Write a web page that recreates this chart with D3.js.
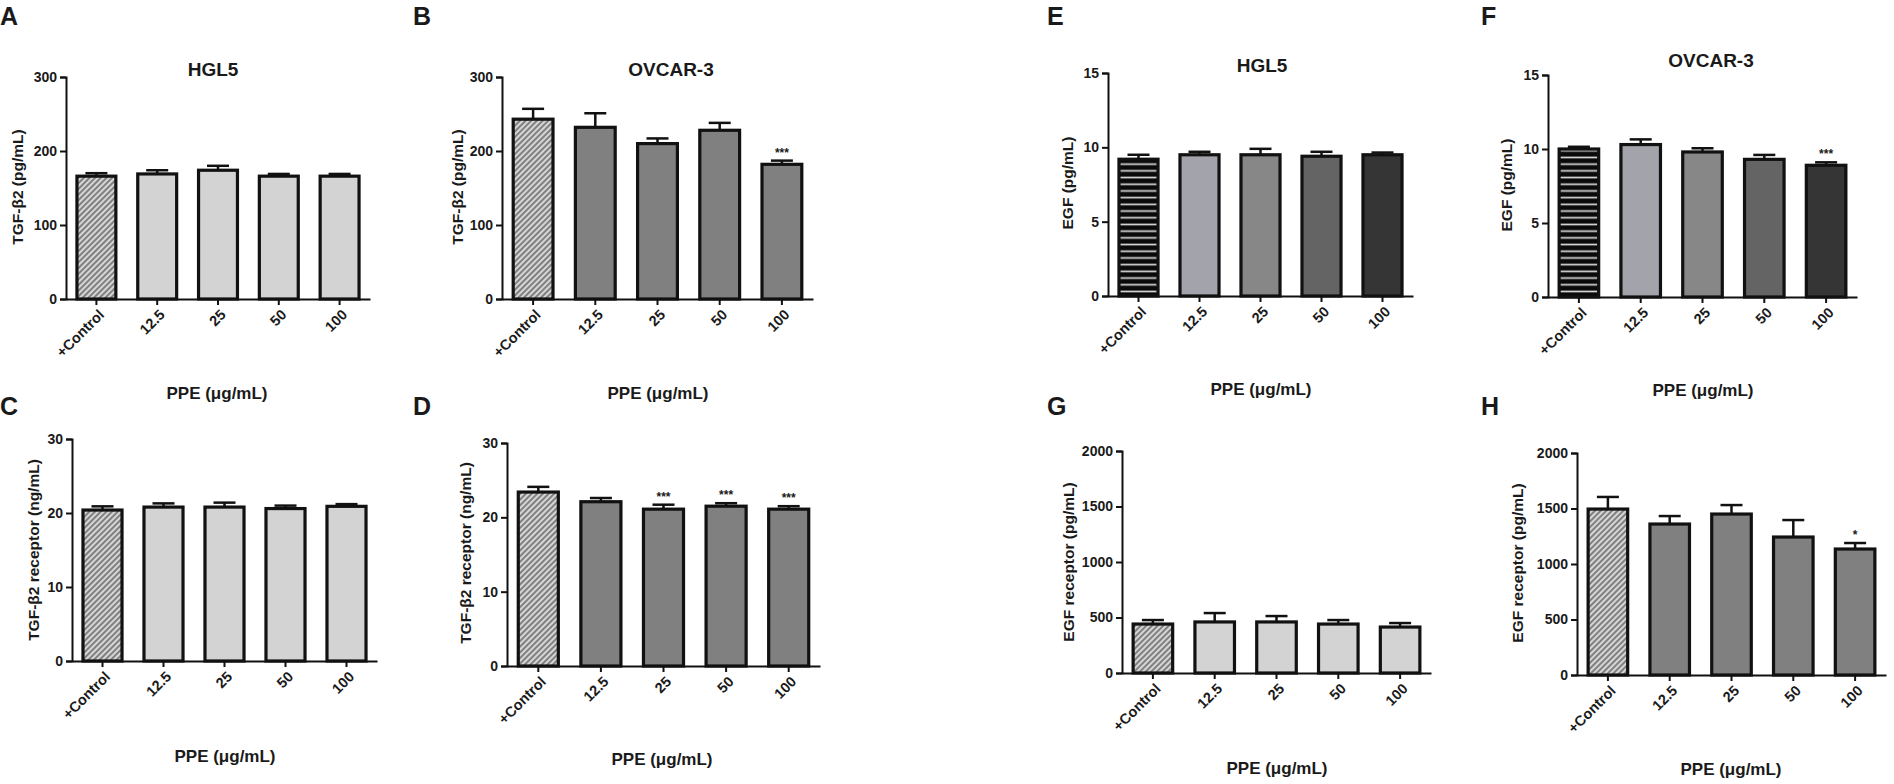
<!DOCTYPE html>
<html>
<head>
<meta charset="utf-8">
<script src="https://cdn.jsdelivr.net/npm/d3@7"></script>
<style>
  html, body { margin: 0; padding: 0; background: #fff; }
  svg text { font-family: "Liberation Sans", Arial, sans-serif; font-weight: bold; fill: #1a1a1a; }
</style>
</head>
<body>
<div id="chart"></div>
<script>
// ---- data ----
const categories = ["+Control", "12.5", "25", "50", "100"];

const tgfHglMean  = [166, 169, 174, 166, 166];
const tgfHglErr   = [4, 5, 6, 3, 3];
const tgfOvcMean  = [243, 232, 210, 228, 182];
const tgfOvcErr   = [14, 19, 7, 10, 5];
const tgfrHglMean = [20.4, 20.8, 20.8, 20.6, 20.9];
const tgfrHglErr  = [0.5, 0.5, 0.6, 0.4, 0.3];
const tgfrOvcMean = [23.4, 22.1, 21.1, 21.5, 21.1];
const tgfrOvcErr  = [0.7, 0.5, 0.6, 0.4, 0.4];
const egfHglMean  = [9.2, 9.5, 9.5, 9.4, 9.5];
const egfHglErr   = [0.3, 0.2, 0.4, 0.3, 0.15];
const egfOvcMean  = [10.0, 10.3, 9.8, 9.3, 8.9];
const egfOvcErr   = [0.15, 0.35, 0.25, 0.3, 0.2];
const egfrHglMean = [441, 460, 460, 441, 414];
const egfrHglErr  = [36, 80, 53, 36, 36];
const egfrOvcMean = [1495, 1360, 1450, 1243, 1135];
const egfrOvcErr  = [109, 72, 81, 153, 54];

const starsB = ["", "", "", "", "***"];
const starsD = ["", "", "***", "***", "***"];
const starsF = ["", "", "", "", "***"];
const starsH = ["", "", "", "", "*"];
const noStars = ["", "", "", "", ""];

const ticksTgf  = [0, 100, 200, 300];
const ticksTgfr = [0, 10, 20, 30];
const ticksEgf  = [0, 5, 10, 15];
const ticksEgfr = [0, 500, 1000, 1500, 2000];

const lightFills = ["url(#hatch)", "#d3d3d3", "#d3d3d3", "#d3d3d3", "#d3d3d3"];
const darkFills  = ["url(#hatch)", "#808080", "#808080", "#808080", "#808080"];
const egfFills   = ["url(#stripes)", "#a3a3ab", "#878787", "#646464", "#353535"];

const xTitle = "PPE (\u03bcg/mL)";

// ---- panels ----
const panels = [
  { letter: "A", lx: 0,    ly: 25,  title: "HGL5",    tx: 213,  ty: 76,
    ylab: "TGF-\u03b22 (pg/mL)", ylx: 17, yly: 187,
    ax: 66,   zero: 299, top: 77,  xEnd: 370,  xtx: 217, xty: 399,
    mean: tgfHglMean, err: tgfHglErr, ticks: ticksTgf, fills: lightFills, stars: noStars },
  { letter: "B", lx: 413,  ly: 25,  title: "OVCAR-3", tx: 671,  ty: 76,
    ylab: "TGF-\u03b22 (pg/mL)", ylx: 457, yly: 187,
    ax: 502,  zero: 299, top: 77,  xEnd: 813,  xtx: 658, xty: 399,
    mean: tgfOvcMean, err: tgfOvcErr, ticks: ticksTgf, fills: darkFills, stars: starsB },
  { letter: "C", lx: 0,    ly: 415, title: null,
    ylab: "TGF-\u03b22 receptor (ng/mL)", ylx: 33, yly: 550,
    ax: 72,   zero: 661, top: 439, xEnd: 377,  xtx: 225, xty: 762,
    mean: tgfrHglMean, err: tgfrHglErr, ticks: ticksTgfr, fills: lightFills, stars: noStars },
  { letter: "D", lx: 413,  ly: 415, title: null,
    ylab: "TGF-\u03b22 receptor (ng/mL)", ylx: 465, yly: 553,
    ax: 507,  zero: 666, top: 443, xEnd: 820,  xtx: 662, xty: 765,
    mean: tgfrOvcMean, err: tgfrOvcErr, ticks: ticksTgfr, fills: darkFills, stars: starsD },
  { letter: "E", lx: 1047, ly: 25,  title: "HGL5",    tx: 1262, ty: 72,
    ylab: "EGF (pg/mL)", ylx: 1067, yly: 183,
    ax: 1108, zero: 296, top: 73,  xEnd: 1413, xtx: 1261, xty: 395,
    mean: egfHglMean, err: egfHglErr, ticks: ticksEgf, fills: egfFills, stars: noStars },
  { letter: "F", lx: 1481, ly: 25,  title: "OVCAR-3", tx: 1711, ty: 67,
    ylab: "EGF (pg/mL)", ylx: 1506, yly: 185,
    ax: 1548, zero: 297, top: 75,  xEnd: 1857, xtx: 1703, xty: 396,
    mean: egfOvcMean, err: egfOvcErr, ticks: ticksEgf, fills: egfFills, stars: starsF },
  { letter: "G", lx: 1047, ly: 415, title: null,
    ylab: "EGF receptor (pg/mL)", ylx: 1068, yly: 562,
    ax: 1122, zero: 673, top: 451, xEnd: 1431, xtx: 1277, xty: 774,
    mean: egfrHglMean, err: egfrHglErr, ticks: ticksEgfr, fills: lightFills, stars: noStars },
  { letter: "H", lx: 1481, ly: 415, title: null,
    ylab: "EGF receptor (pg/mL)", ylx: 1517, yly: 563,
    ax: 1577, zero: 675, top: 453, xEnd: 1886, xtx: 1731, xty: 775,
    mean: egfrOvcMean, err: egfrOvcErr, ticks: ticksEgfr, fills: darkFills, stars: starsH }
];

const W = 1894, H = 784;
const svg = d3.select("#chart").append("svg")
  .attr("width", W)
  .attr("height", H);

// fill patterns
const defs = svg.append("defs");
const hatch = defs.append("pattern")
  .attr("id", "hatch")
  .attr("patternUnits", "userSpaceOnUse")
  .attr("width", 4).attr("height", 4)
  .attr("patternTransform", "rotate(45)");
hatch.append("rect").attr("width", 4).attr("height", 4).attr("fill", "#d6d6d6");
hatch.append("line").attr("x1", 1).attr("y1", 0).attr("x2", 1).attr("y2", 4)
  .attr("stroke", "#6a6a6a").attr("stroke-width", 1.6);

const stripes = defs.append("pattern")
  .attr("id", "stripes")
  .attr("patternUnits", "userSpaceOnUse")
  .attr("width", 8).attr("height", 6.7);
stripes.append("rect").attr("width", 8).attr("height", 6.7).attr("fill", "#0a0a0a");
stripes.append("rect").attr("y", 2.5).attr("width", 8).attr("height", 1.7).attr("fill", "#d8d8d8");

panels.forEach(p => {
  const g = svg.append("g");

  const x = d3.scaleBand()
    .domain(categories)
    .range([p.ax, p.xEnd])
    .paddingInner(0.36)
    .paddingOuter(0.18);

  const y = d3.scaleLinear()
    .domain([0, d3.max(p.ticks)])
    .range([p.zero, p.top]);

  const rows = categories.map((c, i) => ({
    cat: c, mean: p.mean[i], err: p.err[i], fill: p.fills[i], star: p.stars[i]
  }));

  // bars
  g.selectAll("rect.bar")
    .data(rows)
    .join("rect")
      .attr("class", "bar")
      .attr("x", d => x(d.cat))
      .attr("y", d => y(d.mean))
      .attr("width", x.bandwidth())
      .attr("height", d => y(0) - y(d.mean))
      .attr("fill", d => d.fill)
      .attr("stroke", "#111")
      .attr("stroke-width", 3.2);

  // error bars (upper only)
  const capW = 22;
  g.selectAll("line.err")
    .data(rows)
    .join("line")
      .attr("class", "err")
      .attr("x1", d => x(d.cat) + x.bandwidth() / 2)
      .attr("x2", d => x(d.cat) + x.bandwidth() / 2)
      .attr("y1", d => y(d.mean))
      .attr("y2", d => y(d.mean + d.err))
      .attr("stroke", "#111")
      .attr("stroke-width", 2.5);
  g.selectAll("line.cap")
    .data(rows)
    .join("line")
      .attr("class", "cap")
      .attr("x1", d => x(d.cat) + x.bandwidth() / 2 - capW / 2)
      .attr("x2", d => x(d.cat) + x.bandwidth() / 2 + capW / 2)
      .attr("y1", d => y(d.mean + d.err))
      .attr("y2", d => y(d.mean + d.err))
      .attr("stroke", "#111")
      .attr("stroke-width", 2.5);

  // significance stars
  g.selectAll("text.star")
    .data(rows.filter(d => d.star))
    .join("text")
      .attr("class", "star")
      .attr("x", d => x(d.cat) + x.bandwidth() / 2)
      .attr("y", d => y(d.mean + d.err) - 4)
      .attr("text-anchor", "middle")
      .style("font-size", "12px")
      .text(d => d.star);

  // Y axis
  const yAxis = g.append("g")
    .attr("transform", `translate(${p.ax},0)`)
    .call(d3.axisLeft(y).tickValues(p.ticks).tickSize(6).tickPadding(3).tickFormat(d3.format("d")));
  yAxis.select(".domain").attr("stroke", "#111").attr("stroke-width", 2);
  yAxis.selectAll(".tick line").attr("stroke", "#111").attr("stroke-width", 2);
  yAxis.selectAll(".tick text")
    .style("font-size", "14px")
    .style("font-family", "'Liberation Sans', Arial, sans-serif")
    .style("font-weight", "bold")
    .attr("fill", "#1a1a1a");

  // X axis
  const xAxis = g.append("g")
    .attr("transform", `translate(0,${p.zero})`)
    .call(d3.axisBottom(x).tickSize(6).tickSizeOuter(0).tickFormat(""));
  xAxis.select(".domain").attr("stroke", "#111").attr("stroke-width", 2);
  xAxis.selectAll(".tick line").attr("stroke", "#111").attr("stroke-width", 2);

  // rotated category labels
  g.selectAll("text.cat")
    .data(categories)
    .join("text")
      .attr("class", "cat")
      .attr("text-anchor", "end")
      .attr("transform", d => `translate(${x(d) + x.bandwidth() / 2 + 5},${p.zero + 13}) rotate(-45)`)
      .attr("dy", "0.35em")
      .style("font-size", "14.5px")
      .text(d => d);

  // axis titles
  g.append("text")
    .attr("transform", `translate(${p.ylx},${p.yly}) rotate(-90)`)
    .attr("text-anchor", "middle")
    .attr("dominant-baseline", "central")
    .style("font-size", "15.5px")
    .text(p.ylab);

  g.append("text")
    .attr("x", p.xtx)
    .attr("y", p.xty)
    .attr("text-anchor", "middle")
    .style("font-size", "17px")
    .text(xTitle);

  if (p.title) {
    g.append("text")
      .attr("x", p.tx)
      .attr("y", p.ty)
      .attr("text-anchor", "middle")
      .style("font-size", "19px")
      .text(p.title);
  }

  // panel letter
  g.append("text")
    .attr("x", p.lx)
    .attr("y", p.ly)
    .style("font-size", "25px")
    .text(p.letter);
});
</script>
</body>
</html>
